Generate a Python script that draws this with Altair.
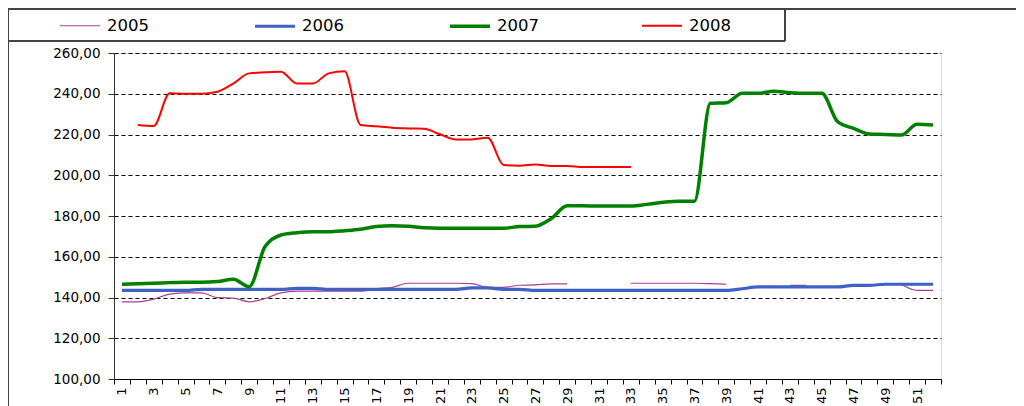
import altair as alt
import pandas as pd

weeks = list(range(1, 53))
years = ["2005", "2006", "2007", "2008"]
N = None

v2005 = [137.9, 137.9, 139.2, 141.7, 142.3, 142.3, 139.9, 139.7, 137.9, 139.5,
         142.3, 143.1, 143.1, 143.1, 143.1, 143.1, 144.3, 145.0, 147.0, 147.0,
         147.0, 147.0, 146.8, 145.0, 145.0, 146.0, 146.2, 146.7, 146.7, N,
         N, N, 147.0, 147.0, 147.0, 147.0, 147.0, 146.8, 146.5, N,
         N, N, 146.0, 146.0, N, N, N, N, N, 146.5,
         143.5, 143.5]
v2006 = [143.5, 143.5, 143.5, 143.5, 143.5, 144.0, 144.0, 144.0, 144.0, 144.0,
         144.0, 144.5, 144.5, 144.0, 144.0, 144.0, 144.0, 144.0, 144.0, 144.0,
         144.0, 144.0, 144.7, 144.7, 144.0, 144.0, 143.5, 143.5, 143.5, 143.5,
         143.5, 143.5, 143.5, 143.5, 143.5, 143.5, 143.5, 143.5, 143.5, 144.3,
         145.2, 145.2, 145.2, 145.2, 145.2, 145.2, 146.0, 146.0, 146.5, 146.5,
         146.5, 146.5]
v2007 = [146.5, 146.8, 147.0, 147.3, 147.5, 147.5, 147.8, 148.9, 145.3, 165.0,
         170.7, 171.8, 172.3, 172.3, 172.8, 173.5, 174.8, 175.2, 175.0, 174.2,
         174.0, 174.0, 174.0, 174.0, 174.0, 174.8, 175.0, 178.8, 185.0, 185.0,
         184.9, 184.9, 184.9, 185.7, 186.7, 187.3, 187.3, 235.3, 235.6, 240.2,
         240.2, 241.2, 240.5, 240.2, 240.2, 226.3, 223.0, 220.2, 220.0, 219.7,
         225.0, 224.7]
v2008 = [N, 224.7, 224.2, 240.2, 240.0, 240.0, 241.0, 245.0, 250.0, 250.5,
         250.8, 245.0, 245.0, 250.0, 251.0, 224.7, 224.0, 223.3, 223.0, 222.8,
         220.1, 217.6, 217.6, 218.4, 205.0, 204.7, 205.3, 204.5, 204.5, 204.0,
         204.0, 204.0, 204.0, N, N, N, N, N, N, N,
         N, N, N, N, N, N, N, N, N, N,
         N, N]

colors = ["#A8408F", "#3F60C4", "#008000", "#FF0000"]
widths = [1.2, 3.2, 3.5, 2.0]
y_ticks = [100, 120, 140, 160, 180, 200, 220, 240, 260]

rows = []
for yr, vals in zip(years, [v2005, v2006, v2007, v2008]):
    for w, v in zip(weeks, vals):
        rows.append({"week": w, "year": yr, "value": v})
df = pd.DataFrame(rows)

FONT = "DejaVu Sans"

lines = alt.Chart(df).mark_line(interpolate="monotone").encode(
    x=alt.X("week:O", title=None,
            scale=alt.Scale(domain=weeks, paddingInner=0, paddingOuter=0),
            axis=alt.Axis(tickBand="extent", labelAngle=-90,
                          labelExpr="datum.value % 2 == 1 ? datum.label : ''",
                          labelFont=FONT, labelFontSize=13, labelColor="#000",
                          labelPadding=3, tickSize=5, tickColor="#000",
                          domainColor="#000", grid=False)),
    y=alt.Y("value:Q", title=None,
            scale=alt.Scale(domain=[100, 260], nice=False, zero=False),
            axis=alt.Axis(values=y_ticks,
                          labelExpr="replace(format(datum.value, '.2f'), '.', ',')",
                          labelFont=FONT, labelFontSize=13.5, labelColor="#000",
                          labelPadding=8, tickSize=6, tickColor="#333",
                          domainColor="#333", grid=True, gridColor="#000",
                          gridDash=[4, 3], gridWidth=1)),
    color=alt.Color("year:N", scale=alt.Scale(domain=years, range=colors),
                    legend=alt.Legend(title=None, orient="none", legendX=-56, legendY=-49,
                                      direction="horizontal", columns=4, columnPadding=99,
                                      symbolType="stroke", symbolSize=1600,
                                      labelFont=FONT, labelFontSize=16.5, labelColor="#000",
                                      labelOffset=5, padding=0)),
    strokeWidth=alt.StrokeWidth("year:N",
                                scale=alt.Scale(type="ordinal", domain=years, range=widths)),
    detail="year:N",
)

frame_top = alt.Chart(df).mark_rule(color="#444", strokeWidth=1).encode(
    x=alt.value(-106), x2=alt.value(1000), y=alt.value(-44))
frame_left = alt.Chart(df).mark_rule(color="#444", strokeWidth=1).encode(
    x=alt.value(-106), y=alt.value(-44), y2=alt.value(400))
leg_bottom = alt.Chart(df).mark_rule(color="#444", strokeWidth=1).encode(
    x=alt.value(-106), x2=alt.value(671), y=alt.value(-12))
leg_right = alt.Chart(df).mark_rule(color="#444", strokeWidth=1).encode(
    x=alt.value(671), y=alt.value(-44), y2=alt.value(-12))

chart = alt.layer(lines, frame_top, frame_left, leg_bottom, leg_right).properties(
    width=827, height=326,
    autosize=alt.AutoSizeParams(type="none"),
    padding={"left": 106, "top": 45, "right": 75, "bottom": 40},
).configure_view(stroke=None).configure(background="white")

chart.save("out.html", embed_options={"renderer": "svg", "actions": False})
